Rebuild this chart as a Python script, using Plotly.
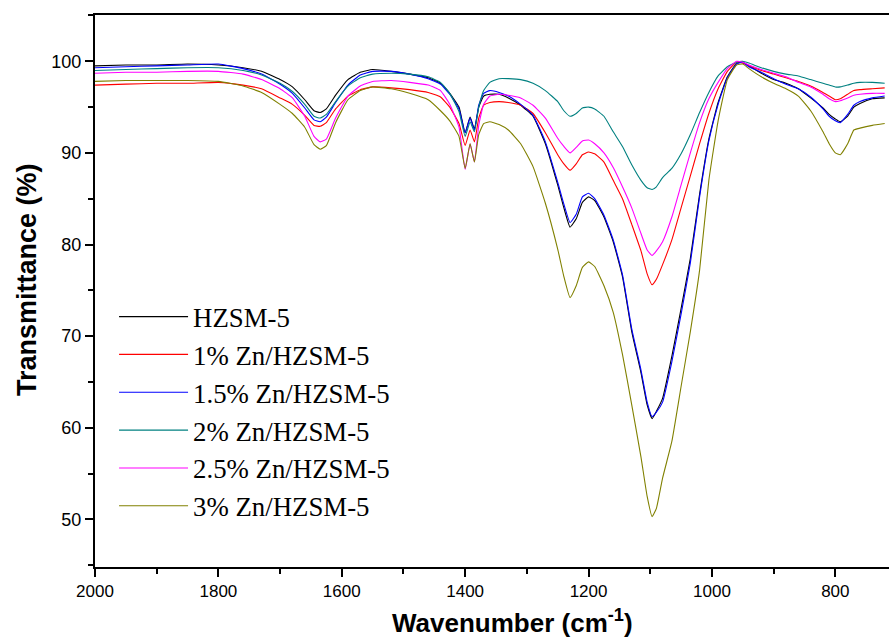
import plotly.graph_objects as go

# Wavenumber grid (cm^-1)
wavenumber = [2000, 1950, 1900, 1850, 1800, 1760, 1730, 1700, 1680, 1660, 1645, 1635, 1625, 1610,
              1590, 1570, 1550, 1520, 1490, 1460, 1440, 1425, 1410, 1400, 1392, 1385, 1378, 1370,
              1360, 1345, 1330, 1310, 1290, 1270, 1250, 1240, 1230, 1220, 1210, 1200, 1190, 1175,
              1160, 1145, 1130, 1115, 1105, 1097, 1090, 1080, 1065, 1050, 1035, 1020, 1005, 990,
              975, 960, 950, 940, 920, 900, 880, 860, 840, 820, 810, 800, 792, 780, 770, 760, 740, 720]

hzsm5 = [99.5, 99.6, 99.6, 99.7, 99.6, 99.3, 98.9, 98.0, 97.2, 95.8, 94.6, 94.4, 94.8, 96.3,
         98.0, 98.8, 99.1, 98.9, 98.6, 98.2, 97.6, 96.5, 95.0, 92.2, 93.9, 92.6, 95.0, 96.2,
         96.4, 96.4, 96.0, 95.2, 94.0, 91.0, 86.5, 84.0, 81.9, 82.8, 84.6, 85.2, 84.8, 83.0,
         80.3, 76.5, 70.5, 66.0, 62.5, 61.0, 61.8, 63.2, 67.8, 73.0, 78.5, 85.5, 91.5, 95.5,
         98.3, 99.8, 99.9, 99.5, 98.7, 98.0, 97.6, 97.0, 96.0, 94.9, 94.2, 93.7, 93.4, 94.0,
         95.0, 95.4, 95.9, 96.0]

zn1 = [97.4, 97.5, 97.6, 97.6, 97.7, 97.4, 97.0, 96.0, 95.3, 94.1, 93.0, 92.9, 93.3, 94.8,
       96.2, 96.9, 97.2, 97.1, 96.9, 96.6, 96.1, 95.0, 93.2, 90.8, 92.5, 91.2, 93.8, 95.2,
       95.5, 95.6, 95.5, 95.2, 94.3, 92.2, 89.8, 88.8, 88.1, 88.8, 89.8, 90.1, 89.9, 89.0,
       87.0, 85.0, 82.2, 79.3, 76.8, 75.6, 76.2, 77.8, 80.5, 84.0, 87.5, 91.0, 94.3, 97.0,
       98.9, 99.9, 99.8, 99.5, 99.0, 98.6, 98.2, 97.8, 97.3, 96.6, 96.2, 95.8, 95.9, 96.4,
       96.8, 96.9, 97.0, 97.1]

zn15 = [99.3, 99.4, 99.5, 99.6, 99.7, 99.2, 98.6, 97.5, 96.5, 94.9, 93.6, 93.4, 93.9, 95.5,
        97.4, 98.5, 98.9, 98.9, 98.6, 98.1, 97.5, 96.4, 94.8, 92.2, 93.8, 92.5, 95.2, 96.5,
        96.8, 96.6, 96.2, 95.3, 94.1, 91.2, 86.8, 84.4, 82.4, 83.3, 85.2, 85.6, 85.0, 83.2,
        80.5, 76.7, 70.8, 66.3, 62.8, 61.2, 61.7, 62.8, 67.2, 72.4, 78.0, 85.2, 91.3, 95.3,
        98.2, 99.7, 99.9, 99.4, 98.8, 98.1, 97.5, 97.0, 96.1, 94.8, 94.0, 93.5, 93.3, 94.2,
        95.2, 95.6, 96.0, 96.2]

zn2 = [99.0, 99.1, 99.2, 99.3, 99.3, 99.0, 98.5, 97.6, 96.7, 95.3, 94.0, 93.8, 94.2, 95.6,
       97.3, 98.2, 98.6, 98.7, 98.6, 98.3, 97.7, 96.5, 94.5, 91.8, 93.4, 92.3, 95.0, 96.8,
       97.7, 98.1, 98.1, 98.0, 97.6, 96.8, 95.6, 94.6, 94.0, 94.3, 94.9, 95.0, 94.8, 94.0,
       92.3, 90.7, 88.7, 87.0, 86.2, 86.0, 86.3, 87.3, 88.3, 89.9, 92.0, 94.4, 96.6, 98.4,
       99.4, 99.9, 100.0, 99.8, 99.3, 98.9, 98.6, 98.4, 98.0, 97.6, 97.4, 97.2, 97.2, 97.4,
       97.6, 97.7, 97.7, 97.6]

zn25 = [98.7, 98.8, 98.8, 98.9, 98.9, 98.6, 98.0, 97.0, 96.0, 94.0, 91.8, 91.2, 91.5, 93.8,
        96.2, 97.3, 97.8, 97.9, 97.7, 97.4, 96.8, 95.3, 92.8, 88.2, 91.0, 89.0, 93.0, 95.3,
        96.2, 96.4, 96.3, 96.0, 95.2, 93.8, 91.6, 90.7, 90.0, 90.6, 91.3, 91.4, 91.0, 90.0,
        88.4, 86.3, 84.0, 81.2, 79.4, 78.8, 79.3, 80.3, 83.0, 86.5, 90.0, 93.3, 95.9, 97.7,
        99.2, 100.0, 99.9, 99.6, 99.1, 98.7, 98.3, 97.7, 97.2, 96.4, 95.9, 95.6, 95.7, 96.0,
        96.3, 96.4, 96.5, 96.5]

zn3 = [97.8, 97.9, 97.9, 97.9, 97.8, 97.3, 96.6, 95.3, 94.3, 92.8, 90.9, 90.4, 90.8, 93.3,
       95.8, 96.8, 97.2, 97.0, 96.5, 95.8, 94.6, 93.5, 91.8, 88.3, 91.0, 89.0, 92.0, 93.2,
       93.4, 93.1, 92.5, 91.0, 88.5, 84.5, 79.5, 76.5, 74.2, 75.5, 77.5, 78.1, 77.6, 75.5,
       72.6, 68.0, 62.5, 56.8, 52.5, 50.3, 51.2, 54.5, 58.5, 64.5, 70.5, 77.2, 87.0, 93.5,
       98.0, 99.6, 99.7, 99.2, 98.3, 97.6, 97.0, 96.2, 94.6, 92.3, 91.0, 90.0, 89.8, 91.0,
       92.5, 92.7, 93.0, 93.2]

series_names = ["HZSM-5", "1% Zn/HZSM-5", "1.5% Zn/HZSM-5", "2% Zn/HZSM-5",
                "2.5% Zn/HZSM-5", "3% Zn/HZSM-5"]
series_values = [hzsm5, zn1, zn15, zn2, zn25, zn3]
series_colors = ["#000000", "#FF0000", "#0000FF", "#008080", "#FF00FF", "#808000"]

x_ticks = [2000, 1800, 1600, 1400, 1200, 1000, 800]
y_ticks = [50, 60, 70, 80, 90, 100]

fig = go.Figure()
for name, vals, col in zip(series_names, series_values, series_colors):
    fig.add_trace(go.Scatter(x=wavenumber, y=vals, mode="lines", name=name,
                             line=dict(color=col, width=1.1, shape="spline", smoothing=0.4)))

sans = "Liberation Sans, Arial, sans-serif"
fig.update_layout(
    width=889, height=637,
    margin=dict(l=95, r=0, t=15, b=70),
    plot_bgcolor="white", paper_bgcolor="white",
    showlegend=True,
    legend=dict(x=0.024, y=0.497, xanchor="left", yanchor="top",
                font=dict(family="Liberation Serif, Times New Roman, serif", size=26.8, color="black"),
                bgcolor="rgba(0,0,0,0)", tracegroupgap=0, itemwidth=69),
    xaxis=dict(range=[2000, 713], tickvals=x_ticks, ticks="outside", ticklen=8, tickwidth=1.5,
               tickcolor="black", showline=True, linewidth=2, linecolor="black", mirror=True,
               showgrid=False, zeroline=False,
               tickfont=dict(family=sans, size=17, color="black"),
               minor=dict(dtick=100, tick0=2000, ticks="outside", ticklen=5, tickwidth=1.5,
                          tickcolor="black", showgrid=False)),
    yaxis=dict(range=[44.8, 105.05], tickvals=y_ticks, ticks="outside", ticklen=8, tickwidth=1.5,
               tickcolor="black", showline=True, linewidth=2, linecolor="black",
               showgrid=False, zeroline=False,
               tickfont=dict(family=sans, size=18, color="black"),
               minor=dict(dtick=5, tick0=45, ticks="outside", ticklen=5, tickwidth=1.5,
                          tickcolor="black", showgrid=False)),
    annotations=[
        dict(text="<b>Wavenumber (cm<sup>-1</sup>)</b>", xref="paper", yref="paper",
             x=0.5264, y=-0.098, xanchor="center", yanchor="middle", showarrow=False,
             font=dict(family=sans, size=26, color="black")),
        dict(text="<b>Transmittance (%)</b>", xref="paper", yref="paper",
             x=-0.0856, y=0.52, xanchor="center", yanchor="middle", showarrow=False,
             textangle=-90,
             font=dict(family=sans, size=27, color="black")),
    ],
)

fig.write_html("out.html", config={"displayModeBar": False},
               post_script="document.body.style.margin='0px';")
